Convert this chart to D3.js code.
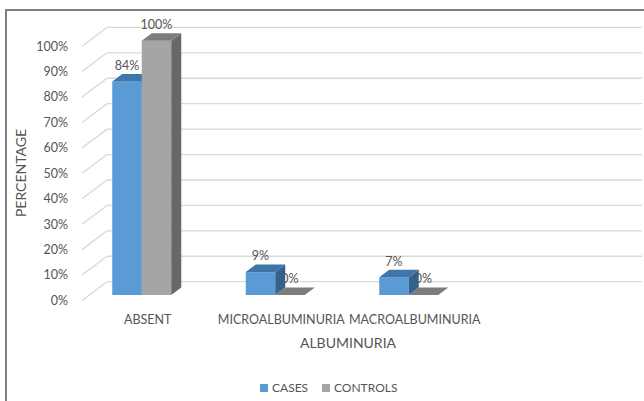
<!DOCTYPE html>
<html>
<head>
<meta charset="utf-8">
<script src="https://cdn.jsdelivr.net/npm/d3@7/dist/d3.min.js"></script>
<style>
  body { margin: 0; background: #fff; }
  text { font-family: Lato, "Open Sans", sans-serif; fill: #555; }
</style>
</head>
<body>
<svg class="svg"></svg>
<script>
let categories = ["ABSENT", "MICROALBUMINURIA", "MACROALBUMINURIA"]
let cases = [84, 9, 7]
let controls = [100, 0, 0]
let ticks = [0, 10, 20, 30, 40, 50, 60, 70, 80, 90, 100]
let seriesNames = ["CASES", "CONTROLS"]

let svg = d3.select(".svg").attr("width", 644).attr("height", 401)

// depth offsets (oblique 3d look)
let depth = {dx: 10, dy: -7.5}          // bar depth
let toFront = {dx: -7, dy: 5.5}         // bar front -> chart front plane
let toBack = {dx: 18, dy: -13.3}        // bar front -> back wall

let x = d3.scaleBand().domain(categories).range([75, 475.5])
let y = d3.scaleLinear().domain([0, 100]).range([295, 40.7])
let barW = 29.5

let colors = [
    {front: "#5b9bd5", top: "#3f75a8", side: "#34628e"},
    {front: "#a5a5a5", top: "#7d7d7d", side: "#686868"}
]

// frame
svg.append("path")
    .attr("d", "M6,401 V10 H644")
    .attr("fill", "none")
    .attr("stroke", "#7f7f7f")
    .attr("stroke-width", 2)

// back wall gridlines
let frontLeft = 82
let backLeft = frontLeft + (toBack.dx - toFront.dx)
svg.append("g").selectAll("line.grid")
    .data(ticks)
    .enter()
    .append("line")
    .attr("x1", backLeft)
    .attr("x2", 642)
    .attr("y1", d => y(d) + toBack.dy)
    .attr("y2", d => y(d) + toBack.dy)
    .attr("stroke", "#d9d9d9")
    .attr("stroke-width", 1.3)

// side wall diagonal lines
svg.append("g").selectAll("line.diag")
    .data(ticks)
    .enter()
    .append("line")
    .attr("x1", frontLeft)
    .attr("x2", backLeft)
    .attr("y1", d => y(d) + toFront.dy)
    .attr("y2", d => y(d) + toBack.dy)
    .attr("stroke", "#d9d9d9")
    .attr("stroke-width", 1.3)

// tick labels
svg.append("g").selectAll("text")
    .data(ticks)
    .enter()
    .append("text")
    .attr("x", 68)
    .attr("y", d => y(d) + toFront.dy)
    .attr("dy", "0.35em")
    .attr("text-anchor", "end")
    .style("font-size", "12.5px")
    .text(d => d + "%")

// bars
let bars = []
categories.forEach((c, i) => {
    bars.push({cat: c, s: 0, v: cases[i]})
    bars.push({cat: c, s: 1, v: controls[i]})
})

let g = svg.append("g")
bars.forEach(b => {
    let x0 = x(b.cat) + x.bandwidth() / 2 - barW + b.s * barW
    let x1 = x0 + barW
    let yt = y(b.v)
    let yb = y(0)
    let col = colors[b.s]
    if (b.v > 0) {
        g.append("rect")
            .attr("x", x0).attr("y", yt)
            .attr("width", barW).attr("height", yb - yt)
            .attr("fill", col.front)
        g.append("path")
            .attr("d", `M${x1},${yt} L${x1 + depth.dx},${yt + depth.dy} L${x1 + depth.dx},${yb + depth.dy} L${x1},${yb} Z`)
            .attr("fill", col.side)
    }
    g.append("path")
        .attr("d", `M${x0},${yt} L${x1},${yt} L${x1 + depth.dx},${yt + depth.dy} L${x0 + depth.dx},${yt + depth.dy} Z`)
        .attr("fill", col.top)
})

// data labels
svg.append("g").selectAll("text")
    .data(bars)
    .enter()
    .append("text")
    .attr("x", d => x(d.cat) + x.bandwidth() / 2 - barW / 2 + d.s * barW)
    .attr("y", d => y(d.v) - 16)
    .attr("dy", "0.35em")
    .attr("text-anchor", "middle")
    .style("font-size", "12.5px")
    .text(d => d.v + "%")

// category labels
svg.append("g").selectAll("text")
    .data(categories)
    .enter()
    .append("text")
    .attr("x", d => x(d) + x.bandwidth() / 2 + 6)
    .attr("y", 320)
    .attr("dy", "0.35em")
    .attr("text-anchor", "middle")
    .style("font-size", "12.5px")
    .text(d => d)

// axis titles
svg.append("text")
    .attr("x", 348).attr("y", 343)
    .attr("dy", "0.35em")
    .attr("text-anchor", "middle")
    .style("font-size", "14px")
    .text("ALBUMINURIA")

svg.append("text")
    .attr("transform", "translate(21,173) rotate(-90)")
    .attr("dy", "0.35em")
    .attr("text-anchor", "middle")
    .style("font-size", "14px")
    .text("PERCENTAGE")

// legend
let legendX = [260, 322]
let legend = svg.append("g")
seriesNames.forEach((n, i) => {
    legend.append("rect")
        .attr("x", legendX[i]).attr("y", 384)
        .attr("width", 8).attr("height", 8)
        .attr("fill", colors[i].front)
    legend.append("text")
        .attr("x", legendX[i] + 12).attr("y", 388)
        .attr("dy", "0.35em")
        .style("font-size", "12px")
        .text(n)
})
</script>
</body>
</html>
